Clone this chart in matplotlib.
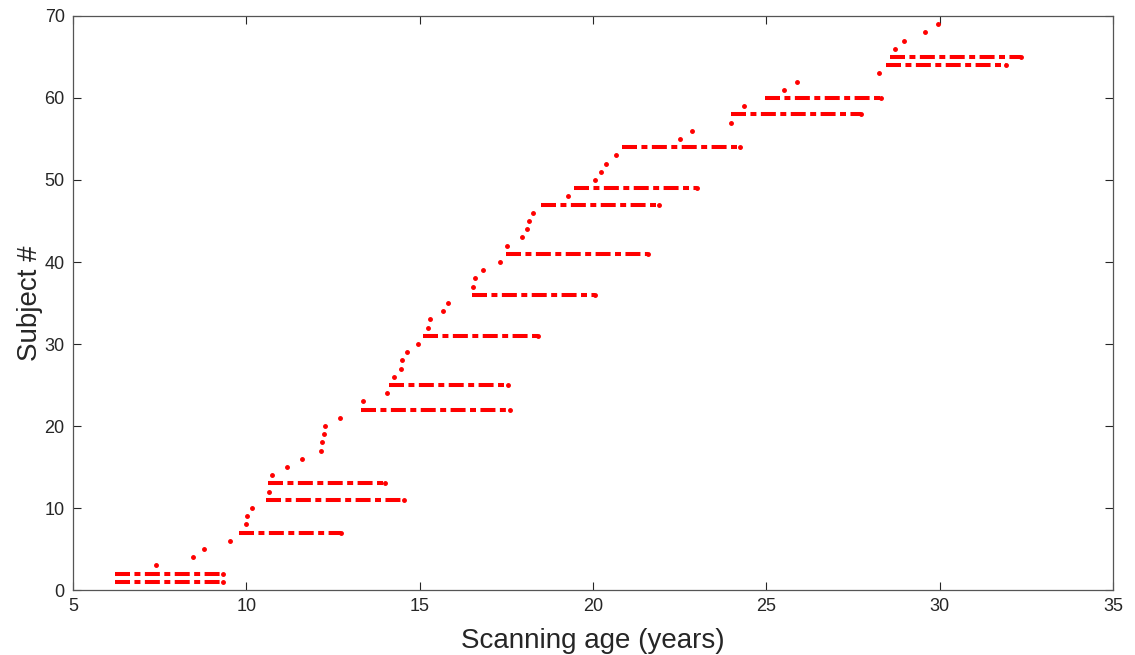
import numpy as np
import matplotlib
matplotlib.use("Agg")
import matplotlib.pyplot as plt

plt.rcParams['font.family'] = ['Liberation Sans', 'DejaVu Sans']
plt.rcParams['lines.scale_dashes'] = False

# subjects scanned more than once: subject number, first and last scan age
multi_subj = [1, 2, 7, 11, 13, 22, 25, 31, 36, 41, 47, 49, 54, 58, 60, 64, 65]
multi_start = [6.2, 6.2, 9.8, 10.56, 10.63, 13.3, 14.13, 15.1, 16.52, 17.5,
               18.51, 19.46, 20.84, 23.99, 24.95, 28.46, 28.57]
multi_end = [9.33, 9.33, 12.74, 14.54, 13.99, 17.6, 17.55, 18.4, 20.07, 21.6,
             21.9, 23.0, 24.23, 27.72, 28.31, 31.9, 32.36]

# subjects with a single scan
single_subj = [3, 4, 5, 6, 8, 9, 10, 12, 14, 15, 16, 17, 18, 19, 20, 21,
               23, 24, 26, 27, 28, 29, 30, 32, 33, 34, 35, 37, 38, 39, 40,
               42, 43, 44, 45, 46, 48, 50, 51, 52, 53, 55, 56, 57, 59, 61,
               62, 63, 66, 67, 68, 69]
single_age = [7.4, 8.46, 8.77, 9.53, 9.99, 10.01, 10.17, 10.64, 10.73, 11.18,
              11.6, 12.14, 12.19, 12.23, 12.26, 12.71,
              13.37, 14.06, 14.26, 14.45, 14.48, 14.64, 14.95, 15.24, 15.29,
              15.67, 15.82, 16.54, 16.6, 16.84, 17.33,
              17.53, 17.94, 18.09, 18.14, 18.26, 19.28, 20.05, 20.22, 20.38,
              20.67, 22.5, 22.85, 23.98, 24.35, 25.51,
              25.89, 28.24, 28.71, 28.97, 29.57, 29.96]

txt = '#262626'
fig = plt.figure(figsize=(11.35, 6.55), dpi=100)
ax = fig.add_axes([0.0643, 0.0992, 0.9163, 0.8764])

for s, a0, a1 in zip(multi_subj, multi_start, multi_end):
    ax.plot([a0, a1], [s, s], color='red', lw=2.9,
            linestyle=(0, (10.8, 3.2, 4.3, 3.2)), dash_capstyle='butt')
    ax.plot([a1], [s], '.', color='red', ms=5)

ax.plot(single_age, single_subj, '.', color='red', ms=5)

ax.set_xlim(5, 35)
ax.set_ylim(0, 70)
ax.set_xticks(np.arange(5, 36, 5))
ax.set_yticks(np.arange(0, 71, 10))
ax.tick_params(direction='in', top=True, right=True, length=6, width=0.8,
               labelsize=13, colors=txt, pad=6)
for sp in ax.spines.values():
    sp.set_color('#555555')
    sp.set_linewidth(0.9)

ax.set_xlabel('Scanning age (years)', fontsize=20, color=txt, labelpad=9)
ax.set_ylabel('Subject #', fontsize=20, color=txt, labelpad=1)

fig.savefig('out.png', dpi=100)
